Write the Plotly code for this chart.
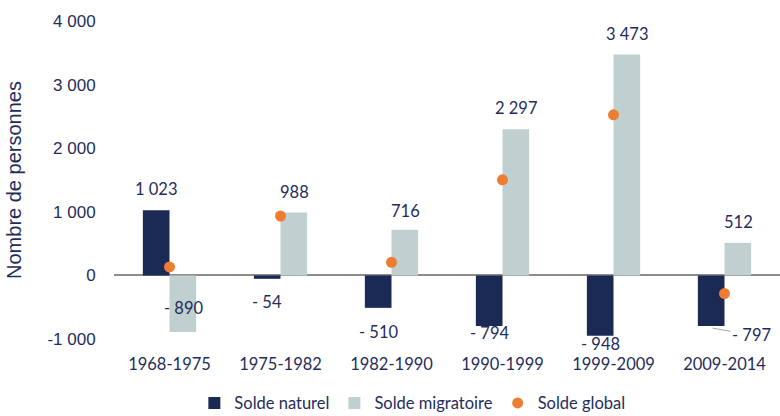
import plotly.graph_objects as go

categories = ["1968-1975", "1975-1982", "1982-1990", "1990-1999", "1999-2009", "2009-2014"]
solde_naturel = [1023, -54, -510, -794, -948, -797]
solde_migratoire = [-890, 988, 716, 2297, 3473, 512]
solde_global = [n + m for n, m in zip(solde_naturel, solde_migratoire)]

y_tickvals = [-1000, 0, 1000, 2000, 3000, 4000]
y_ticktext = ["-1 000", "0", "1 000", "2 000", "3 000", "4 000"]

NAVY = "#1b2a55"
TEXT = "#1f2d5a"
LIGHT = "#c0cfcf"
ORANGE = "#ed7d31"
LABEL_FONT = "Lato, 'Open Sans', sans-serif"
AXIS_FONT = "'Liberation Sans', Arial, sans-serif"


def fmt(v):
    s = f"{abs(v):,}".replace(",", " ")
    return ("- " + s) if v < 0 else s


fig = go.Figure()
fig.add_trace(go.Bar(x=categories, y=solde_naturel, name="Solde naturel",
                     marker=dict(color=NAVY, line=dict(width=0))))
fig.add_trace(go.Bar(x=categories, y=solde_migratoire, name="Solde migratoire",
                     marker=dict(color=LIGHT, line=dict(width=0))))
fig.add_trace(go.Scatter(x=categories, y=solde_global, name="Solde global", mode="markers",
                         marker=dict(color=ORANGE, size=11, symbol="circle")))

# label pixel offsets (style), relative to the bar end
nat_yshift = [21, -23, -24, -7, -8, None]
mig_yshift = [24, 21, 19, 21, 21, 21]
BAR_HALF = 13.5

annotations = []
for i, c in enumerate(categories):
    v = solde_naturel[i]
    if nat_yshift[i] is not None:
        annotations.append(dict(x=c, y=v, text=fmt(v), showarrow=False, xshift=-BAR_HALF,
                                yshift=nat_yshift[i], font=dict(family=LABEL_FONT, size=16.5, color=TEXT)))
    else:
        annotations.append(dict(x=c, y=v, text=fmt(v), showarrow=True, arrowhead=0, arrowwidth=1,
                                arrowcolor="#a6a6a6", xshift=-12, yshift=-2, ax=39, ay=7,
                                font=dict(family=LABEL_FONT, size=16.5, color=TEXT)))
    m = solde_migratoire[i]
    annotations.append(dict(x=c, y=m, text=fmt(m), showarrow=False, xshift=BAR_HALF,
                            yshift=mig_yshift[i], font=dict(family=LABEL_FONT, size=16.5, color=TEXT)))

fig.update_layout(
    width=780, height=416,
    margin=dict(l=114, r=0, t=21, b=77, autoexpand=False),
    paper_bgcolor="white", plot_bgcolor="white",
    barmode="group", bargap=0.52, bargroupgap=0,
    showlegend=True,
    legend=dict(orientation="h", x=0.448, y=-0.147, xanchor="center", yanchor="top",
                font=dict(family=LABEL_FONT, size=16.5, color=TEXT), itemwidth=30),
    annotations=annotations,
    xaxis=dict(showgrid=False, showline=False, ticks="outside", ticklen=0,
               ticklabelstandoff=10, automargin=False,
               tickfont=dict(family=LABEL_FONT, size=16.5, color=TEXT)),
    yaxis=dict(range=[-1000, 4000], tickvals=y_tickvals, ticktext=y_ticktext,
               showgrid=False, showline=False, zeroline=True, zerolinecolor="#8c8c8c",
               zerolinewidth=1.5, ticks="outside", ticklen=0, ticklabelstandoff=14,
               automargin=False,
               tickfont=dict(family=AXIS_FONT, size=17, color=TEXT),
               title=dict(text="Nombre de personnes", standoff=20,
                          font=dict(family=AXIS_FONT, size=20, color=TEXT))),
)

fig.write_html("out.html", config={"displayModeBar": False},
               post_script="document.body.style.margin='0';")
